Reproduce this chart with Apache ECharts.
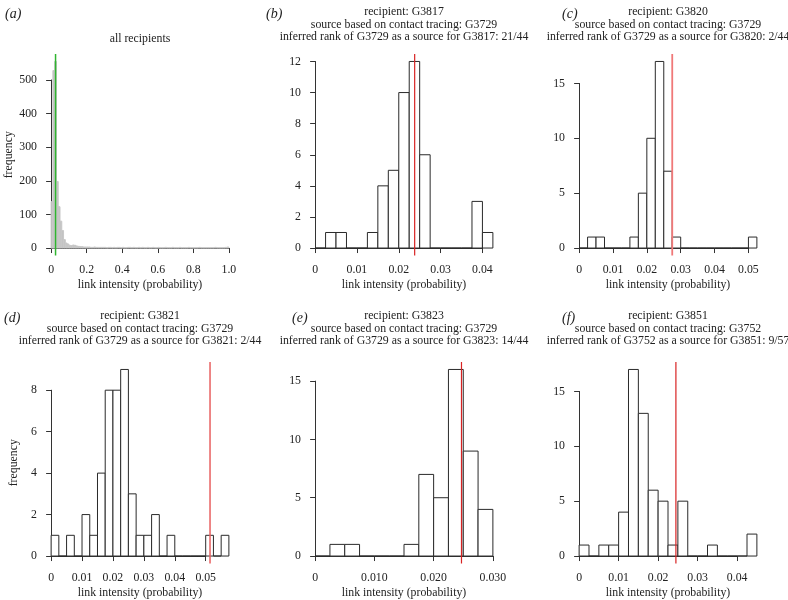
<!DOCTYPE html>
<html><head><meta charset="utf-8">
<script src="https://cdn.jsdelivr.net/npm/echarts@6/dist/echarts.min.js"></script>
<style>html,body{margin:0;padding:0;background:#fff}#c{width:788px;height:600px}</style>
</head><body><div id="c"></div>
<script>
// ---------- data ----------
const binWidthA = 0.01;
const countsA = [138, 528, 555, 198, 123, 80, 52, 25, 15, 12,
  8, 7, 9, 8, 6, 5, 4, 4, 3, 3,
  3, 3, 2, 2, 3, 2, 2, 2, 2, 2,
  2, 1, 2, 2, 1, 2, 1, 2, 2, 1,
  2, 1, 1, 2, 2, 1, 2, 1, 1, 2,
  1, 2, 1, 1, 2, 1, 1, 2, 1, 1,
  2, 1, 1, 1, 2, 1, 1, 1, 2, 1,
  1, 1, 2, 1, 1, 1, 1, 2, 1, 1,
  1, 1, 1, 2, 1, 1, 1, 1, 1, 1,
  1, 1, 2, 1, 1, 1, 1, 1, 2, 3];
const binWidth = 0.0025;
const countsB = [0,1,1,0,0,1,4,5,10,12,6,0,0,0,0,3,1];
const countsC = [0,1,1,0,0,0,1,5,10,17,7,1,0,0,0,0,0,0,0,0,1];
const countsD = [1,0,1,0,2,1,4,8,8,9,3,1,1,2,0,1,0,0,0,0,1,0,1];
const countsE = [0,1,1,0,0,0,1,7,5,16,9,4];
const countsF = [1,0,1,1,4,17,13,6,5,1,5,0,0,1,0,0,0,2];
const markValues = [0.025, 0.0238, 0.0275, 0.0514, 0.0247, 0.0245];
const titleLines = [
  ['all recipients'],
  ['recipient: G3817', 'source based on contact tracing: G3729', 'inferred rank of G3729 as a source for G3817: 21/44'],
  ['recipient: G3820', 'source based on contact tracing: G3729', 'inferred rank of G3729 as a source for G3820: 2/44'],
  ['recipient: G3821', 'source based on contact tracing: G3729', 'inferred rank of G3729 as a source for G3821: 2/44'],
  ['recipient: G3823', 'source based on contact tracing: G3729', 'inferred rank of G3729 as a source for G3823: 14/44'],
  ['recipient: G3851', 'source based on contact tracing: G3752', 'inferred rank of G3752 as a source for G3851: 9/57']
];
const panelLetters = ['a','b','c','d','e','f'];
const xTickMax = [1.0, 0.04, 0.05, 0.05, 0.03, 0.04];
const xTickStep = [0.2, 0.01, 0.01, 0.01, 0.01, 0.01];
const xTickDecimals = [1, 2, 2, 2, 3, 2];
const yTickMax = [500, 12, 15, 8, 15, 15];
const yTickStep = [100, 2, 5, 2, 5, 5];
const xLabel = 'link intensity (probability)';
const yLabel = 'frequency';

// ---------- layout ----------
const FONT = 'Liberation Serif';
const FS = 11.8;
const colLeft = [44, 308, 572];
const rowTop = [54, 362];
const PW = 192, PH = 201.5;
const panels = [
  {counts: countsA, w: binWidthA, fill: '#c2c2c2', stroke: '#c8c8c8', mark: '#2fb52f', markW: 1.5, col: 0, row: 0, ylab: true, ylabGap: 29, letterX: 5},
  {counts: countsB, w: binWidth, fill: '#fff', stroke: '#2a2a2a', mark: '#d82323', markW: 1.2, col: 1, row: 0, letterX: 266},
  {counts: countsC, w: binWidth, fill: '#fff', stroke: '#2a2a2a', mark: '#f07878', markW: 1.8, col: 2, row: 0, letterX: 562},
  {counts: countsD, w: binWidth, fill: '#fff', stroke: '#2a2a2a', mark: '#e86060', markW: 1.5, col: 0, row: 1, ylab: true, ylabGap: 24, letterX: 4},
  {counts: countsE, w: binWidth, fill: '#fff', stroke: '#2a2a2a', mark: '#d82323', markW: 1.2, col: 1, row: 1, letterX: 292},
  {counts: countsF, w: binWidth, fill: '#fff', stroke: '#2a2a2a', mark: '#d82323', markW: 1.2, col: 2, row: 1, letterX: 562}
];
const titleY = [[12, 25, 37], [316, 328.5, 341]];

const grids = [], xAxes = [], yAxes = [], series = [], graphics = [];
panels.forEach((p, i) => {
  const L = colLeft[p.col], T = rowTop[p.row];
  const xEnd = p.counts.length * p.w;
  const yMax = Math.max(...p.counts);
  const kx = PW / (xEnd * 1.08), ky = PH / (yMax * 1.08);
  const xOff = 0.04 * xEnd * kx, yOff = 0.04 * yMax * ky;
  grids.push({left: L, top: T, width: PW, height: PH, containLabel: false, outerBoundsMode: 'none'});
  const x0 = L + xOff, y0 = T + PH - yOff;
  grids.push({left: x0, top: y0 - yTickMax[i] * ky, width: xTickMax[i] * kx, height: yTickMax[i] * ky, containLabel: false, outerBoundsMode: 'none'});
  const nameStyle = {fontFamily: FONT, fontSize: FS, color: '#222'};
  xAxes.push({gridIndex: 2 * i, type: 'value', min: -0.04 * xEnd, max: 1.04 * xEnd,
    axisLine: {show: false}, axisTick: {show: false}, axisLabel: {show: false}, splitLine: {show: false},
    name: xLabel, nameLocation: 'middle', nameGap: 23, nameTextStyle: nameStyle});
  yAxes.push({gridIndex: 2 * i, type: 'value', min: -0.04 * yMax, max: 1.04 * yMax,
    axisLine: {show: false}, axisTick: {show: false}, axisLabel: {show: false}, splitLine: {show: false},
    name: p.ylab ? yLabel : '', nameLocation: 'middle', nameGap: p.ylabGap || 25, nameRotate: 90, nameTextStyle: nameStyle});
  const dec = xTickDecimals[i];
  xAxes.push({gridIndex: 2 * i + 1, type: 'value', min: 0, max: xTickMax[i], interval: xTickStep[i], offset: yOff,
    axisLine: {show: true, lineStyle: {color: '#333', width: 1}},
    axisTick: {show: true, length: 5, lineStyle: {color: '#333'}},
    axisLabel: {fontFamily: FONT, fontSize: FS, color: '#222', margin: 8,
      formatter: v => Math.abs(v) < 1e-12 ? '0' : v.toFixed(dec)},
    splitLine: {show: false}});
  yAxes.push({gridIndex: 2 * i + 1, type: 'value', min: 0, max: yTickMax[i], interval: yTickStep[i], offset: xOff,
    axisLine: {show: true, lineStyle: {color: '#333', width: 1}},
    axisTick: {show: true, length: 5, lineStyle: {color: '#333'}},
    axisLabel: {fontFamily: FONT, fontSize: FS, color: '#222', margin: 7, formatter: v => String(Math.round(v))},
    splitLine: {show: false}});
  series.push({
    type: 'custom', xAxisIndex: 2 * i, yAxisIndex: 2 * i,
    data: p.counts.map((c, k) => [k * p.w, (k + 1) * p.w, c]),
    encode: {x: [0, 1], y: 2},
    renderItem: (params, api) => {
      const a = api.coord([api.value(0), api.value(2)]);
      const b = api.coord([api.value(1), 0]);
      return {type: 'rect', shape: {x: a[0], y: a[1], width: b[0] - a[0], height: b[1] - a[1]},
        style: {fill: p.fill, stroke: p.stroke, lineWidth: 1}};
    }
  });
  series.push({
    type: 'custom', xAxisIndex: 2 * i, yAxisIndex: 2 * i,
    data: [[markValues[i], 0]],
    encode: {x: 0, y: 1},
    z: 5,
    renderItem: (params, api) => {
      const cs = params.coordSys;
      const x = api.coord([api.value(0), 0])[0];
      return {type: 'line', shape: {x1: x, y1: cs.y, x2: x, y2: cs.y + cs.height},
        style: {stroke: p.mark, lineWidth: p.markW}};
    }
  });
  const lines = titleLines[i];
  const ys = titleY[p.row];
  lines.forEach((t, j) => {
    const y = lines.length === 1 ? ys[2] + 2 : ys[j];
    graphics.push({type: 'text', x: L + PW / 2, y: y,
      style: {text: t, fontFamily: FONT, fontSize: FS, fill: '#222', align: 'center', verticalAlign: 'middle'}});
  });
  graphics.push({type: 'text', x: p.letterX, y: p.row === 0 ? 14 : 318,
    style: {text: '(' + panelLetters[i] + ')', fontFamily: FONT, fontSize: 14, fontStyle: 'italic', fill: '#222', align: 'left', verticalAlign: 'middle'}});
});

const chart = echarts.init(document.getElementById('c'), null, {renderer: 'canvas'});
chart.setOption({
  animation: false,
  backgroundColor: '#fff',
  grid: grids, xAxis: xAxes, yAxis: yAxes, series: series,
  graphic: graphics
});
</script></body></html>
